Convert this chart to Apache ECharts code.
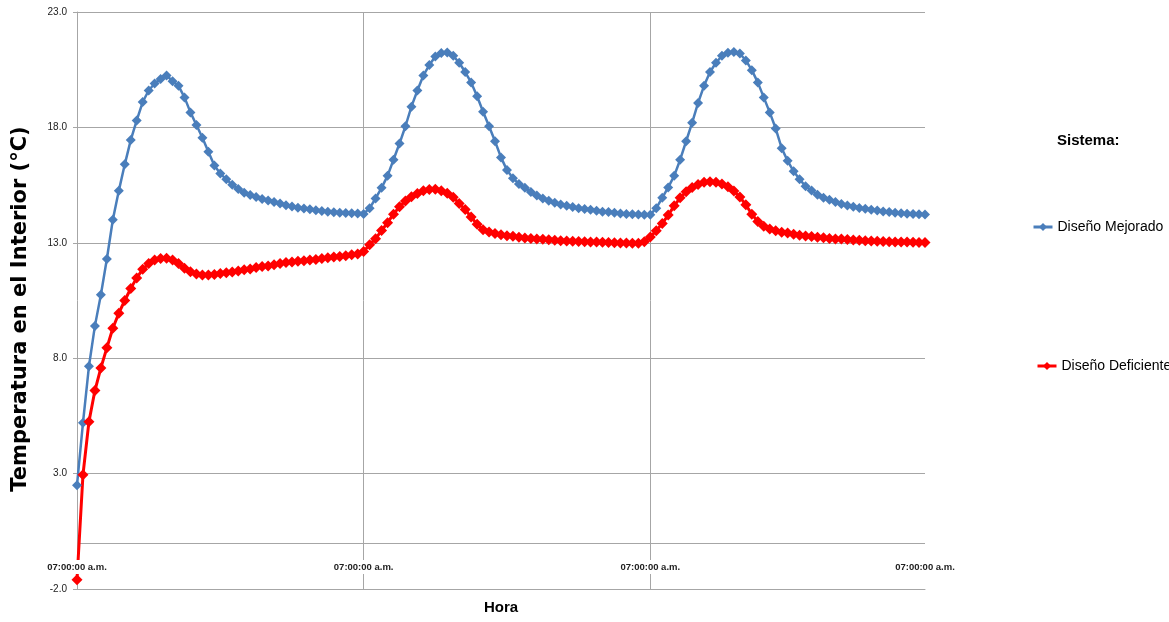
<!DOCTYPE html>
<html>
<head>
<meta charset="utf-8">
<script src="https://cdn.jsdelivr.net/npm/echarts@6/dist/echarts.min.js"></script>
<style>
html,body{margin:0;padding:0;background:#fff;}
#chart{width:1169px;height:622px;}
</style>
</head>
<body>
<div id="chart"></div>
<script>
// half-hour steps from 07:00 a.m. (0 h) to 71 h
const hours = Array.from({length: 143}, (_, i) => i * 0.5);
const tickLabel = "07:00:00 a.m.";
const labelIndices = [0, 48, 96, 142];
const gridIndices = [48, 96];
const yTicks = [-2, 3, 8, 13, 18, 23];
const yTitle = "Temperatura en el Interior (°C)";

const disenoMejorado = [
  2.5, 5.2, 7.65, 9.4, 10.75, 12.3, 14.0, 15.25, 16.4, 17.45, 18.3, 19.1, 19.6, 19.9, 20.1, 20.25,
  20.0, 19.8, 19.3, 18.65, 18.1, 17.55, 16.95, 16.35, 16.0, 15.75, 15.52, 15.33, 15.17, 15.07, 14.98, 14.9,
  14.83, 14.77, 14.7, 14.63, 14.57, 14.52, 14.49, 14.45, 14.41, 14.38, 14.35, 14.32, 14.3, 14.29, 14.28, 14.27,
  14.25, 14.5, 14.92, 15.38, 15.9, 16.6, 17.3, 18.05, 18.9, 19.6, 20.25, 20.7, 21.07, 21.22, 21.25, 21.1,
  20.8, 20.4, 19.95, 19.35, 18.68, 18.05, 17.4, 16.7, 16.15, 15.8, 15.55, 15.38, 15.2, 15.05, 14.92, 14.82,
  14.73, 14.66, 14.6, 14.55, 14.5, 14.46, 14.43, 14.39, 14.35, 14.33, 14.3, 14.27, 14.25, 14.24, 14.23, 14.22,
  14.22, 14.5, 14.95, 15.4, 15.9, 16.6, 17.4, 18.2, 19.06, 19.8, 20.4, 20.8, 21.1, 21.23, 21.27, 21.2,
  20.9, 20.48, 19.95, 19.3, 18.65, 17.95, 17.1, 16.55, 16.1, 15.75, 15.45, 15.27, 15.08, 14.95, 14.86, 14.77,
  14.68, 14.62, 14.56, 14.51, 14.47, 14.43, 14.4, 14.36, 14.33, 14.3, 14.28, 14.26, 14.25, 14.24, 14.23
];

const disenoDeficiente = [
  -1.6, 2.95, 5.25, 6.6, 7.58, 8.45, 9.3, 9.95, 10.5, 11.02, 11.48, 11.85, 12.1, 12.26, 12.32, 12.33,
  12.26, 12.1, 11.9, 11.75, 11.65, 11.6, 11.6, 11.63, 11.67, 11.7, 11.74, 11.78, 11.83, 11.87, 11.93, 11.97,
  12.0, 12.05, 12.1, 12.15, 12.17, 12.2, 12.22, 12.25, 12.28, 12.32, 12.35, 12.38, 12.41, 12.44, 12.48, 12.52,
  12.62, 12.92, 13.18, 13.53, 13.87, 14.24, 14.56, 14.81, 15.0, 15.14, 15.25, 15.31, 15.32, 15.26, 15.15, 14.97,
  14.7, 14.44, 14.12, 13.8, 13.57, 13.47, 13.4, 13.35, 13.31, 13.28, 13.24, 13.21, 13.19, 13.17, 13.15, 13.13,
  13.11, 13.09, 13.08, 13.07, 13.06, 13.05, 13.04, 13.03, 13.02, 13.01, 13.0, 12.99, 12.99, 12.98, 12.98, 13.05,
  13.25, 13.52, 13.84, 14.2, 14.6, 14.95, 15.21, 15.4, 15.53, 15.62, 15.65, 15.62, 15.55, 15.43, 15.24, 14.98,
  14.65, 14.24, 13.92, 13.72, 13.6, 13.52, 13.46, 13.42, 13.37, 13.33, 13.3, 13.27, 13.24, 13.22, 13.19, 13.17,
  13.16, 13.14, 13.12, 13.11, 13.09, 13.08, 13.07, 13.06, 13.05, 13.04, 13.03, 13.03, 13.02, 13.01, 13.01
];

const NARROW = "'Liberation Sans', Arial, sans-serif";
const GRAY = '#a6a6a6';

const chart = echarts.init(document.getElementById('chart'), null, {renderer: 'canvas'});
chart.setOption({
  animation: false,
  backgroundColor: '#ffffff',
  title: {
    text: 'Sistema:',
    left: 1057, top: 133,
    padding: 0,
    textStyle: {fontFamily: NARROW, fontWeight: 'bold', fontSize: 15, color: '#000'}
  },
  graphic: [{
    type: 'text',
    x: 21, y: 309,
    rotation: Math.PI / 2,
    z: 10,
    style: {
      text: yTitle,
      fill: '#000',
      font: "bold 21px 'DejaVu Sans', Verdana, sans-serif",
      align: 'center',
      verticalAlign: 'middle'
    }
  }],
  legend: [
    {
      data: ['Diseño Mejorado'], orient: 'vertical', left: 1032, top: 220,
      padding: 0, itemWidth: 19, itemHeight: 10, itemGap: 4,
      lineStyle: {width: 3},
      textStyle: {fontFamily: NARROW, fontSize: 14, color: '#000'}
    },
    {
      data: ['Diseño Deficiente'], orient: 'vertical', left: 1036, top: 359,
      padding: 0, itemWidth: 19, itemHeight: 10, itemGap: 4,
      lineStyle: {width: 3},
      textStyle: {fontFamily: NARROW, fontSize: 14, color: '#000'}
    }
  ],
  grid: {left: 77, right: 244, top: 12, bottom: 33, containLabel: false, outerBoundsMode: 'none'},
  xAxis: [
    {
      type: 'category',
      data: hours,
      boundaryGap: false,
      position: 'bottom',
      name: 'Hora',
      nameLocation: 'middle',
      nameGap: 11,
      nameTextStyle: {fontFamily: NARROW, fontWeight: 'bold', fontSize: 15, color: '#000'},
      axisLine: {onZero: false, lineStyle: {color: GRAY, width: 1}},
      axisTick: {show: false},
      axisLabel: {show: false},
      splitLine: {show: true, interval: (i) => gridIndices.includes(i), lineStyle: {color: GRAY, width: 1}}
    },
    {
      type: 'category',
      data: hours,
      boundaryGap: false,
      position: 'bottom',
      offset: 0,
      zlevel: 1,
      axisLine: {show: false, onZero: false},
      axisTick: {show: false},
      splitLine: {show: false},
      axisLabel: {
        interval: (i) => labelIndices.includes(i),
        formatter: () => tickLabel,
        margin: -29,
        fontFamily: NARROW, fontWeight: 'bold', fontSize: 9.5, color: '#222',
        backgroundColor: '#ffffff', padding: [2, 1, 2, 1]
      }
    }
  ],
  yAxis: {
    type: 'value',
    min: -2, max: 23, interval: 5,
    axisLine: {show: true, lineStyle: {color: GRAY, width: 1}},
    axisTick: {show: true, length: 4, lineStyle: {color: GRAY}},
    axisLabel: {
      formatter: (v) => yTicks.includes(v) ? v.toFixed(1) : '',
      margin: 10,
      fontFamily: NARROW, fontSize: 10, color: '#222'
    },
    splitLine: {show: true, lineStyle: {color: GRAY, width: 1}}
  },
  series: [
    {
      name: 'Diseño Mejorado',
      type: 'line',
      xAxisIndex: 0,
      data: disenoMejorado,
      color: '#4a7ebb',
      symbol: 'diamond',
      symbolSize: 10,
      showAllSymbol: true,
      lineStyle: {width: 2.5, color: '#4a7ebb'},
      itemStyle: {color: '#4a7ebb'},
      markLine: {
        silent: true,
        symbol: ['none', 'none'],
        label: {show: false},
        z: 1,
        lineStyle: {color: GRAY, width: 1, type: 'solid'},
        data: [{yAxis: 0}]
      }
    },
    {
      name: 'Diseño Deficiente',
      type: 'line',
      xAxisIndex: 0,
      data: disenoDeficiente,
      color: '#ff0000',
      symbol: 'diamond',
      symbolSize: 11,
      showAllSymbol: true,
      lineStyle: {width: 3, color: '#ff0000'},
      itemStyle: {color: '#ff0000'}
    }
  ]
});
</script>
</body>
</html>
